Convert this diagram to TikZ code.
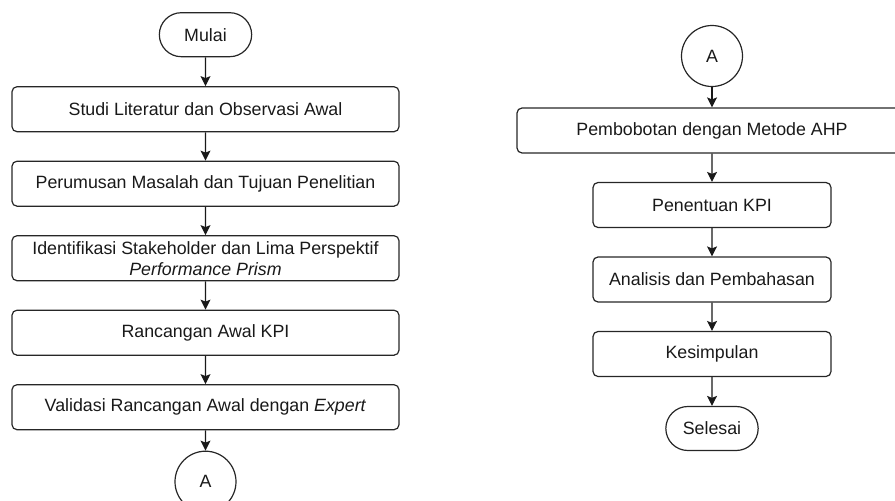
\documentclass[tikz,border=0pt]{standalone}
\usepackage{fontspec}
\setmainfont{Liberation Sans}
\usetikzlibrary{arrows.meta,shapes.misc}

\begin{document}
\begin{tikzpicture}[
    grow=down,
    level distance=74.5pt,
    every node/.style={font=\fontsize{17.8}{21}\selectfont, text=black!90},
    terminal/.style={draw=black!85, line width=1.2pt, rounded rectangle, minimum width=99pt, minimum height=44pt},
    process/.style={draw=black!85, line width=1.2pt, rectangle, rounded corners=5pt, minimum width=387pt, minimum height=45pt, align=center, inner sep=1pt},
    shortbox/.style={process, minimum width=238pt},
    connector/.style={draw=black!85, line width=1.2pt, circle, minimum size=61pt, inner sep=0pt},
    edge from parent/.style={draw=black!90, line width=1.2pt, -{Stealth[length=10pt,width=10pt,inset=2pt]}}
  ]
  \clip (0,0) rectangle (895pt,-501pt);

  % Left column
  \node[terminal] (mulai) at (205.5pt,-34.7pt) {Mulai}
    child {
      node[process] (studi) {Studi Literatur dan Observasi Awal}
      child {
        node[process] (rumusan) {Perumusan Masalah dan Tujuan Penelitian}
        child {
          node[process] (identifikasi) {Identifikasi Stakeholder dan Lima Perspektif\\\textit{Performance Prism}}
          child {
            node[process] (rancangan) {Rancangan Awal KPI}
            child {
              node[process] (validasi) {Validasi Rancangan Awal dengan \textit{Expert}}
              child {node[connector] (keA) {A}}
            }
          }
        }
      }
    };

  % Right column
  \node[connector] (dariA) at (712pt,-56pt) {A}
    child {
      node[process, minimum width=390pt] (bobot) {Pembobotan dengan Metode AHP}
      child {
        node[shortbox] (penentuan) {Penentuan KPI}
        child {
          node[shortbox] (analisis) {Analisis dan Pembahasan}
          child {
            node[shortbox] (simpulan) {Kesimpulan}
            child {node[terminal] (selesai) {Selesai}}
          }
        }
      }
    };

\end{tikzpicture}
\end{document}
